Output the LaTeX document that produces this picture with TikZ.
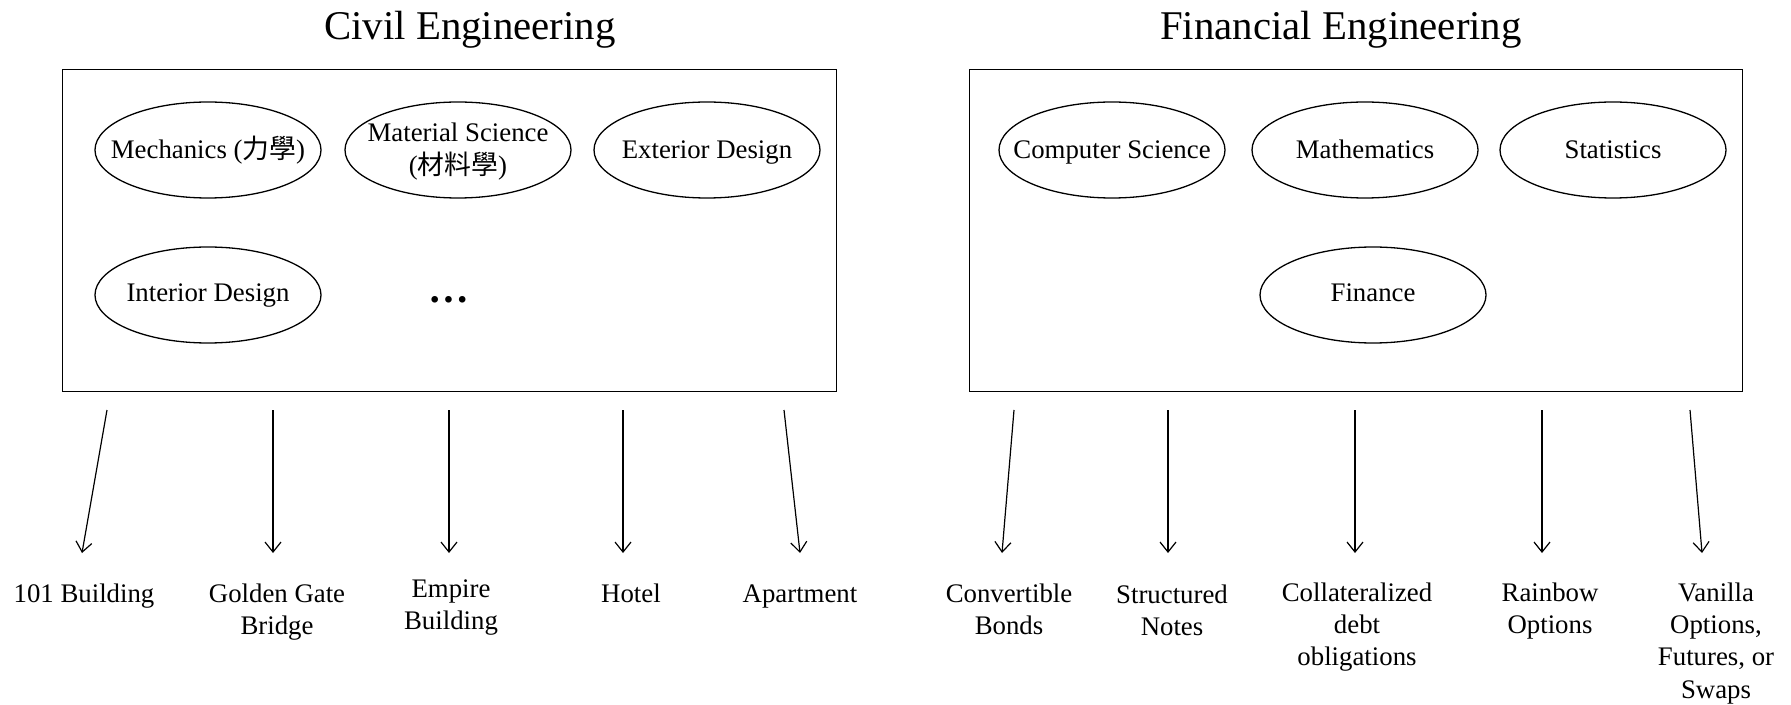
\documentclass[tikz,border=0pt]{standalone}
\usepackage{fontspec}
\setmainfont{Liberation Serif}
\newfontfamily\cjk{Noto Sans CJK TC}
\usetikzlibrary{shapes.geometric,arrows.meta}

\begin{document}
% one unit = one pixel of the 1791 x 705 layout (0.5pt), y grows downwards
\begin{tikzpicture}[x=0.5pt,y=-0.5pt,
  lbl/.style={font=\fontsize{13.4}{16.2}\selectfont, inner sep=0pt},
  field/.style={ellipse, draw, line width=0.65pt, minimum width=113pt,
    minimum height=48pt, inner sep=0pt},
  inside/.style={lbl, text height=11pt, text depth=2.5pt},
  frame/.style={draw, line width=0.7pt, anchor=north west, inner sep=0pt,
    minimum height=161pt},
  heading/.style={font=\fontsize{20.4}{24}\selectfont, inner sep=0pt, anchor=base},
  product/.style={lbl, anchor=base},
  arr/.style={-{Straight Barb[length=5pt,width=8pt]}, line width=0.6pt}]

\useasboundingbox (0,0) rectangle (1791,705);

% ---------- headings ----------
\node[heading] (civil) at (470,40) {Civil Engineering};
\node[heading] (fin)   at (1341,40) {Financial Engineering};

% ---------- frames ----------
\node[frame, minimum width=387pt]   (cbox) at (62,69)  {};
\node[frame, minimum width=386.5pt] (fbox) at (969,69) {};

% ---------- civil engineering disciplines ----------
\node[field, label={[inside]center:Mechanics ({\cjk 力學})}] (mech) at (208,150) {};
\node[field, label={[lbl,yshift=-0.5pt,font=\fontsize{13.4}{16.6}\selectfont]center:\begin{tabular}[t]{@{}c@{}}Material Science\\({\cjk 材料學})\end{tabular}}] (matsci) at (458,150) {};
\node[field, label={[inside]center:Exterior Design}] (ext) at (707,150) {};
\node[field, label={[inside,yshift=0.75pt]center:Interior Design}] (int) at (208,295) {};
\node[font=\fontsize{20.4}{24}\selectfont\bfseries, inner sep=0pt, anchor=base] (more) at (449,303) {\symbol{"2026}};

% ---------- financial engineering disciplines ----------
\node[field, label={[inside]center:Computer Science}] (cs) at (1112,150) {};
\node[field, label={[inside]center:Mathematics}] (math) at (1365,150) {};
\node[field, label={[inside]center:Statistics}] (stat) at (1613,150) {};
\node[field, label={[inside,yshift=0.75pt]center:Finance}] (finance) at (1373,295) {};

% ---------- products ----------
\node[product] (p1) at (84,602)  {101 Building};
\node[product] (p2) at (277,602) {\begin{tabular}[t]{@{}c@{}}Golden Gate\\Bridge\end{tabular}};
\node[product] (p3) at (451,597) {\begin{tabular}[t]{@{}c@{}}Empire\\Building\end{tabular}};
\node[product] (p4) at (631,602) {Hotel};
\node[product] (p5) at (800,602) {Apartment};

\node[product] (q1) at (1009,602) {\begin{tabular}[t]{@{}c@{}}Convertible\\Bonds\end{tabular}};
\node[product] (q2) at (1172,603) {\begin{tabular}[t]{@{}c@{}}Structured\\Notes\end{tabular}};
\node[product] (q3) at (1357,601) {\begin{tabular}[t]{@{}c@{}}Collateralized\\debt\\obligations\end{tabular}};
\node[product] (q4) at (1550,601) {\begin{tabular}[t]{@{}c@{}}Rainbow\\Options\end{tabular}};
\node[product] (q5) at (1716,601) {\begin{tabular}[t]{@{}c@{}}Vanilla\\Options,\\Futures, or\\Swaps\end{tabular}};

% ---------- arrow end points ----------
\coordinate (a1) at (107,410);  \coordinate (b1) at (82,553);
\coordinate (a2) at (273,410);  \coordinate (b2) at (273,553);
\coordinate (a3) at (449,410);  \coordinate (b3) at (449,553);
\coordinate (a4) at (623,410);  \coordinate (b4) at (623,553);
\coordinate (a5) at (784,410);  \coordinate (b5) at (800,553);

\coordinate (c1) at (1014,410); \coordinate (d1) at (1002,553);
\coordinate (c2) at (1168,410); \coordinate (d2) at (1168,553);
\coordinate (c3) at (1355,410); \coordinate (d3) at (1355,553);
\coordinate (c4) at (1542,410); \coordinate (d4) at (1542,553);
\coordinate (c5) at (1690,410); \coordinate (d5) at (1702,553);

\foreach \i in {1,...,5} {
  \draw[arr] (a\i) -- (b\i);
  \draw[arr] (c\i) -- (d\i);
}
\end{tikzpicture}
\end{document}
